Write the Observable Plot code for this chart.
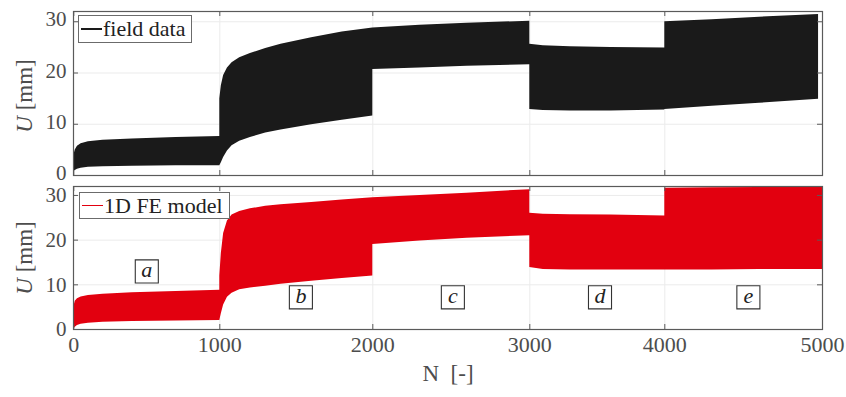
<!DOCTYPE html>
<html>
<head>
<meta charset="utf-8">
<script src="https://cdn.jsdelivr.net/npm/d3@7"></script>
<script src="https://cdn.jsdelivr.net/npm/@observablehq/plot@0.6"></script>
<style>
  html, body { margin: 0; padding: 0; background: #fff; }
  #wrap { position: relative; width: 846px; height: 397px; overflow: hidden; font-family: "Liberation Serif", serif; }
  #top, #bottom { position: absolute; left: 0; }
  #top { top: 0; }
  #bottom { top: 178px; }
  .ylab { position: absolute; left: 25px; transform: translate(-50%, -50%) rotate(-90deg); white-space: nowrap; font-size: 23px; color: #4d4d4d; }
  .legend { position: absolute; background: #fff; border: 1px solid #6b6b6b; box-sizing: border-box; display: flex; align-items: center; font-size: 22px; color: #222; white-space: nowrap; }
  .legend .ln { display: inline-block; width: 21px; height: 1.5px; margin: 0 1px 0 2px; }
</style>
</head>
<body>
<div id="wrap">
  <div id="top"></div>
  <div id="bottom"></div>
  <div class="ylab" style="top:96px"><i>U</i> [mm]</div>
  <div class="ylab" style="top:258px"><i>U</i> [mm]</div>
  <div class="legend" style="left:78px;top:15px;width:114px;height:28px;"><span class="ln" style="background:#1a1a1a"></span>field data</div>
  <div class="legend" style="left:79px;top:192px;width:151px;height:27px;"><span class="ln" style="background:#e2000f"></span>1D FE model</div>
</div>
<script>
// ---- data ----
const xTicks = [0, 1000, 2000, 3000, 4000, 5000];
const yTicks = [0, 10, 20, 30];

const fieldN     = [0, 10, 25, 50, 100, 200, 400, 700, 1000, 1000, 1010, 1025, 1050, 1080, 1130, 1200, 1300, 1400, 1600, 1800, 2000, 2000, 2300, 2600, 3000, 3000, 3100, 3300, 3600, 4000, 4000, 4300, 4600, 4975];
const fieldUpper = [3.9, 5.0, 5.7, 6.2, 6.6, 6.9, 7.1, 7.4, 7.6, 15.0, 17.5, 19.5, 21.0, 22.0, 23.0, 23.8, 24.8, 25.6, 26.9, 28.0, 28.8, 28.8, 29.3, 29.7, 30.1, 25.6, 25.3, 25.1, 25.0, 24.9, 30.0, 30.4, 30.9, 31.4];
const fieldLower = [0.8, 1.0, 1.2, 1.4, 1.6, 1.7, 1.8, 1.9, 1.9, 1.9, 2.5, 3.5, 4.8, 5.8, 6.7, 7.4, 8.3, 8.9, 9.9, 10.8, 11.6, 20.7, 21.0, 21.3, 21.6, 12.9, 12.7, 12.6, 12.6, 12.8, 12.9, 13.5, 14.1, 14.9];

const modelN     = [0, 10, 25, 50, 100, 200, 400, 700, 1000, 1000, 1010, 1025, 1050, 1080, 1130, 1200, 1300, 1400, 1600, 1800, 2000, 2000, 2300, 2600, 3000, 3000, 3100, 3300, 3600, 4000, 4000, 4300, 4600, 5000];
const modelUpper = [5.0, 6.3, 6.9, 7.3, 7.6, 7.9, 8.2, 8.5, 8.8, 12.0, 17.0, 21.5, 24.3, 25.6, 26.4, 27.0, 27.6, 27.9, 28.4, 29.0, 29.5, 29.5, 30.0, 30.5, 31.3, 26.0, 25.8, 25.7, 25.6, 25.4, 31.6, 31.7, 31.8, 31.9];
const modelLower = [0.0, 0.5, 0.9, 1.2, 1.4, 1.6, 1.8, 1.9, 2.0, 2.0, 3.5, 5.5, 7.2, 8.1, 8.9, 9.3, 9.7, 10.1, 10.8, 11.4, 12.0, 19.0, 19.8, 20.4, 21.0, 13.9, 13.4, 13.3, 13.3, 13.3, 13.3, 13.3, 13.4, 13.4];

const annotLabel = ["a", "b", "c", "d", "e"];
const annotN     = [500, 1530, 2510, 3520, 4530];
const annotU     = [13, 7.2, 7.2, 7.2, 7.2];

// ---- layout ----
const W = 846;
const xRange = [73.3, 219.3, 372.3, 529.3, 664.3, 822];
const frameColor = "#5a5a5a";
const gridColor = "#ebebeb";
const baseStyle = {fontFamily: "'Liberation Serif', serif", fontSize: "20px", color: "#4d4d4d", background: "transparent", overflow: "visible"};

function panel({N, up, lo, fill, height, mt, mb, showX, yDy, extra = []}) {
  const data = N.map((n, i) => ({n, hi: up[i], lo: lo[i]}));
  const ph = height - mt - mb;
  const pw = 822 - 73;
  return Plot.plot({
    width: W, height, marginLeft: 73, marginRight: W - 822, marginTop: mt, marginBottom: mb,
    style: baseStyle,
    x: {type: "linear", domain: xTicks, range: xRange, label: null, axis: null},
    y: {type: "linear", domain: [0, 32], label: null, axis: null},
    marks: [
      Plot.gridX(xTicks.slice(1, 5), {stroke: gridColor, strokeOpacity: 1}),
      Plot.gridY(yTicks.slice(1), {stroke: gridColor, strokeOpacity: 1}),
      Plot.areaY(data, {x: "n", y1: "lo", y2: "hi", fill, curve: "linear"}),
      Plot.frame({stroke: frameColor, strokeWidth: 1.2}),
      Plot.tickX(xTicks, {x: d => d, stroke: frameColor, insetTop: ph - 5}),
      Plot.tickX(xTicks, {x: d => d, stroke: frameColor, insetBottom: ph - 5}),
      Plot.tickY(yTicks, {y: d => d, stroke: frameColor, insetRight: pw - 5}),
      Plot.tickY(yTicks, {y: d => d, stroke: frameColor, insetLeft: pw - 5}),
      Plot.axisY(yTicks, {tickSize: 0, tickPadding: 7, label: null, fill: "#4d4d4d", tickFormat: d => String(d), fontSize: 21, dy: yDy}),
      ...(showX ? [
        Plot.axisX(xTicks, {tickSize: 0, tickPadding: 7, label: null, fill: "#4d4d4d", tickFormat: d => String(d), fontSize: 22}),
        Plot.text(["N  [-]"], {frameAnchor: "bottom", text: d => d, dy: 51, fontSize: 23, fill: "#4d4d4d"})
      ] : []),
      ...extra
    ]
  });
}

const annots = annotLabel.map((t, i) => ({t, n: annotN[i], u: annotU[i]}));

document.getElementById("top").append(panel({
  N: fieldN, up: fieldUpper, lo: fieldLower, fill: "#1a1a1a",
  height: 178, mt: 11, mb: 3, showX: false, yDy: -2
}));

document.getElementById("bottom").append(panel({
  N: modelN, up: modelUpper, lo: modelLower, fill: "#e2000f",
  height: 219, mt: 8, mb: 68, showX: true, yDy: 0,
  extra: [
    Plot.dot(annots, {x: "n", y: "u", symbol: "square", r: 13, stroke: "#333", strokeWidth: 1.1, fill: "white"}),
    Plot.text(annots, {x: "n", y: "u", text: "t", fontStyle: "italic", fontSize: 22, fill: "#222", dy: -1})
  ]
}));
</script>
</body>
</html>
